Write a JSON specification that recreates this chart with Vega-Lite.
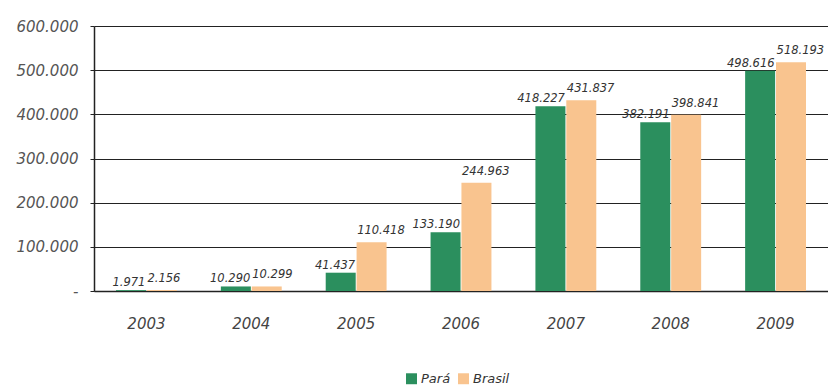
{
  "$schema": "https://vega.github.io/schema/vega-lite/v6.json",
  "width": 734,
  "height": 265,
  "autosize": {"type": "none"},
  "padding": {"left": 94, "top": 26, "right": 0, "bottom": 94},
  "background": "white",
  "config": {
    "locale": {"number": {"decimal": ",", "thousands": ".", "grouping": [3], "currency": ["R$", ""]}},
    "view": {"stroke": null},
    "font": "DejaVu Sans"
  },
  "data": {"values": [
    {"ano": "2003", "serie": "Pará", "valor": 1971},
    {"ano": "2003", "serie": "Brasil", "valor": 2156},
    {"ano": "2004", "serie": "Pará", "valor": 10290},
    {"ano": "2004", "serie": "Brasil", "valor": 10299},
    {"ano": "2005", "serie": "Pará", "valor": 41437},
    {"ano": "2005", "serie": "Brasil", "valor": 110418},
    {"ano": "2006", "serie": "Pará", "valor": 133190},
    {"ano": "2006", "serie": "Brasil", "valor": 244963},
    {"ano": "2007", "serie": "Pará", "valor": 418227},
    {"ano": "2007", "serie": "Brasil", "valor": 431837},
    {"ano": "2008", "serie": "Pará", "valor": 382191},
    {"ano": "2008", "serie": "Brasil", "valor": 398841},
    {"ano": "2009", "serie": "Pará", "valor": 498616},
    {"ano": "2009", "serie": "Brasil", "valor": 518193}
  ]},
  "encoding": {
    "x": {
      "field": "ano", "type": "nominal", "title": null,
      "scale": {"paddingInner": 0.42, "paddingOuter": 0.21},
      "axis": {"labelAngle": 0, "ticks": false, "domain": true, "domainColor": "#222", "domainWidth": 1.5,
               "labelFont": "DejaVu Sans", "labelFontStyle": "italic", "labelFontSize": 15, "labelColor": "#444",
               "labelPadding": 25, "grid": false}
    }
  },
  "layer": [
    {
      "mark": {"type": "bar", "width": 30},
      "encoding": {
        "xOffset": {"field": "serie", "type": "nominal", "sort": ["Pará", "Brasil"], "scale": {"paddingInner": 0.03}},
        "y": {
          "field": "valor", "type": "quantitative", "title": null,
          "scale": {"domain": [0, 600000], "nice": false},
          "axis": {"values": [0, 100000, 200000, 300000, 400000, 500000, 600000],
                   "labelExpr": "datum.value == 0 ? '-' : format(datum.value, ',')",
                   "grid": true, "gridColor": "#222", "gridWidth": 1.2, "gridOpacity": 1,
                   "domain": true, "domainColor": "#222", "domainWidth": 1.5,
                   "ticks": true, "tickSize": 4, "tickColor": "#222",
                   "labelFont": "DejaVu Sans", "labelFontStyle": "italic", "labelFontSize": 15, "labelColor": "#555",
                   "labelPadding": 12}
        },
        "color": {
          "field": "serie", "type": "nominal", "sort": ["Pará", "Brasil"],
          "scale": {"domain": ["Pará", "Brasil"], "range": ["#2b8f5e", "#f9c48f"]},
          "legend": {"title": null, "orient": "none", "legendX": 311, "legendY": 346, "direction": "horizontal",
                     "symbolType": "square", "symbolSize": 120, "symbolStrokeWidth": 0, "columnPadding": 6,
                     "labelFont": "DejaVu Sans", "labelFontStyle": "italic", "labelFontSize": 13, "labelColor": "#333",
                     "labelOffset": 3}
        }
      }
    },
    {
      "transform": [{"filter": "datum.serie == 'Pará'"}],
      "mark": {"type": "text", "align": "right", "baseline": "alphabetic", "dy": -4, "dx": -1,
               "fontStyle": "italic", "fontSize": 11.5, "color": "#333", "font": "DejaVu Sans"},
      "encoding": {
        "y": {"field": "valor", "type": "quantitative"},
        "text": {"field": "valor", "type": "quantitative", "format": ","}
      }
    },
    {
      "transform": [{"filter": "datum.serie == 'Brasil'"}],
      "mark": {"type": "text", "align": "left", "baseline": "alphabetic", "dy": -8, "dx": 1,
               "fontStyle": "italic", "fontSize": 11.5, "color": "#333", "font": "DejaVu Sans"},
      "encoding": {
        "y": {"field": "valor", "type": "quantitative"},
        "text": {"field": "valor", "type": "quantitative", "format": ","}
      }
    }
  ]
}
